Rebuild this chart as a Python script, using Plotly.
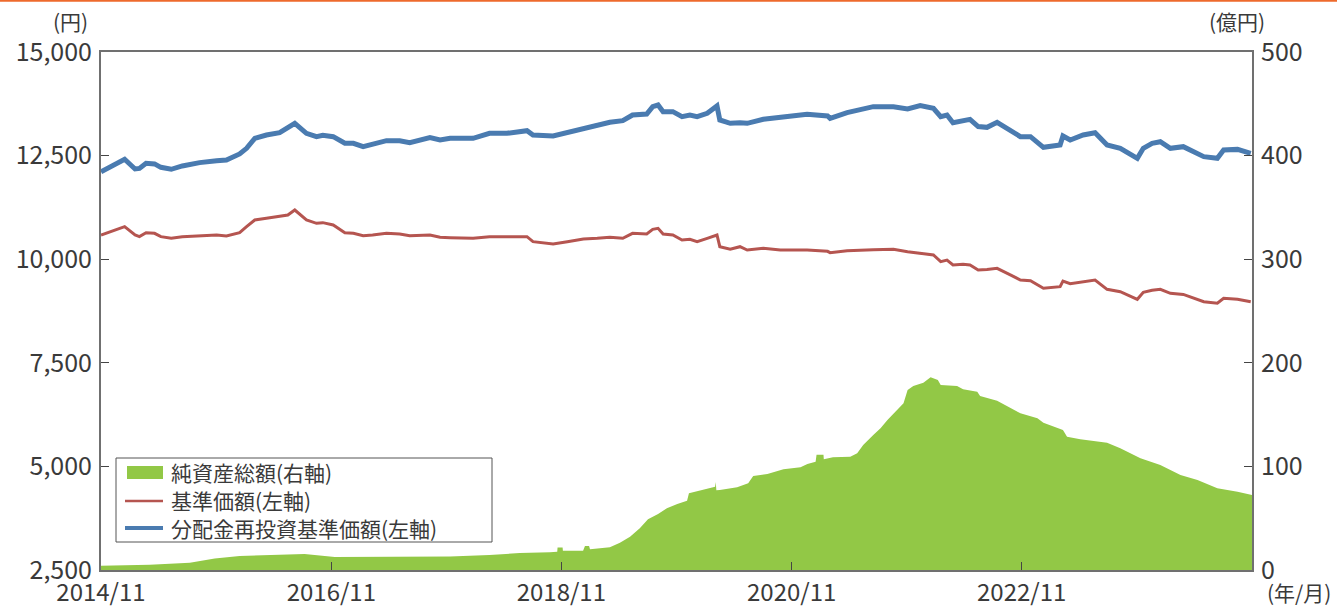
import plotly.graph_objects as go

# ---- data ----
line_dates = [
    "2014-11-01", "2015-01-15", "2015-02-17", "2015-03-03", "2015-03-24", "2015-04-20", "2015-05-10",
    "2015-06-12", "2015-07-17", "2015-09-10", "2015-11-03", "2015-12-04", "2016-01-15", "2016-02-06",
    "2016-03-03", "2016-04-09", "2016-05-21", "2016-06-16", "2016-07-08", "2016-08-14", "2016-09-15",
    "2016-10-05", "2016-11-07", "2016-12-14", "2017-01-10", "2017-02-10", "2017-03-12", "2017-04-25",
    "2017-06-06", "2017-07-08", "2017-09-10", "2017-10-12", "2017-11-13", "2018-01-25", "2018-03-18",
    "2018-05-12", "2018-07-15", "2018-08-03", "2018-10-06", "2018-11-20", "2019-01-10", "2019-02-23",
    "2019-04-04", "2019-05-15", "2019-06-15", "2019-07-30", "2019-08-18", "2019-09-04", "2019-09-20",
    "2019-10-21", "2019-11-19", "2019-12-14", "2020-01-06", "2020-02-07", "2020-02-26", "2020-03-09",
    "2020-03-18", "2020-04-20", "2020-05-21", "2020-06-13", "2020-08-03", "2020-09-26", "2020-12-20",
    "2021-02-23", "2021-03-03", "2021-04-26", "2021-07-18", "2021-09-20", "2021-11-04", "2021-12-14",
    "2022-01-25", "2022-02-17", "2022-03-09", "2022-03-28", "2022-04-29", "2022-05-21", "2022-06-16",
    "2022-07-14", "2022-08-15", "2022-09-26", "2022-10-28", "2022-11-29", "2023-01-09", "2023-03-03",
    "2023-03-12", "2023-04-04", "2023-05-15", "2023-06-22", "2023-07-30", "2023-09-10", "2023-11-03",
    "2023-11-22", "2023-12-20", "2024-01-15", "2024-02-16", "2024-03-28", "2024-06-01", "2024-07-14",
    "2024-08-03", "2024-09-16", "2024-10-28",
]

reinvest_nav = [  # 分配金再投資基準価額 (円)
    12111, 12411, 12177, 12190, 12314, 12300, 12217,
    12170, 12250, 12330, 12377, 12394, 12539, 12676,
    12917, 12997, 13053, 13158, 13279, 13038, 12957,
    12990, 12957, 12797, 12797, 12715, 12780, 12860,
    12860, 12812, 12933, 12876, 12917, 12917, 13038,
    13038, 13102, 12997, 12973, 13053, 13174, 13239,
    13304, 13343, 13480, 13504, 13681, 13721, 13560,
    13560, 13440, 13480, 13440, 13520, 13641, 13697,
    13359, 13279, 13295, 13279, 13375, 13416, 13496,
    13456, 13400, 13536, 13681, 13681, 13625, 13705,
    13641, 13440, 13480, 13294, 13343, 13375, 13200,
    13182, 13304, 13102, 12957, 12957, 12700, 12756,
    12973, 12876, 12997, 13053, 12756, 12676, 12435,
    12676, 12797, 12836, 12676, 12715, 12474, 12435,
    12635, 12650, 12555,
]

nav = [  # 基準価額 (円)
    10584, 10785, 10584, 10544, 10640, 10624, 10544,
    10504, 10544, 10568, 10584, 10560, 10640, 10785,
    10946, 10987, 11027, 11067, 11187, 10946, 10866,
    10882, 10825, 10640, 10624, 10568, 10584, 10624,
    10608, 10568, 10584, 10528, 10520, 10504, 10544,
    10544, 10544, 10423, 10367, 10423, 10487, 10504,
    10528, 10504, 10624, 10608, 10720, 10745, 10608,
    10584, 10463, 10479, 10423, 10504, 10560, 10584,
    10302, 10239, 10302, 10222, 10262, 10222, 10222,
    10190, 10157, 10206, 10230, 10239, 10182, 10142,
    10101, 9940, 9980, 9860, 9880, 9860, 9740,
    9750, 9780, 9620, 9498, 9480, 9297, 9337,
    9474, 9410, 9450, 9498, 9273, 9217, 9032,
    9200, 9249, 9273, 9177, 9150, 8975, 8936,
    9056, 9032, 8975,
]

aum_dates = [
    "2014-11-01", "2015-04-05", "2015-08-10", "2015-10-28", "2016-01-15", "2016-06-20", "2016-08-08",
    "2016-11-12", "2017-06-06", "2017-11-13", "2018-03-18", "2018-06-22", "2018-09-26", "2018-10-19",
    "2018-10-20", "2018-11-05", "2018-11-06", "2019-01-09", "2019-01-15", "2019-01-28", "2019-01-31",
    "2019-04-04", "2019-05-06", "2019-06-07", "2019-07-08", "2019-08-03", "2019-09-04", "2019-10-02",
    "2019-11-04", "2019-12-05", "2019-12-11", "2020-01-16", "2020-03-03", "2020-03-05", "2020-03-07",
    "2020-03-18", "2020-05-12", "2020-06-16", "2020-07-02", "2020-08-16", "2020-10-06", "2020-11-29",
    "2020-12-21", "2021-01-16", "2021-01-19", "2021-02-10", "2021-02-11", "2021-03-12", "2021-05-06",
    "2021-05-28", "2021-06-16", "2021-07-18", "2021-08-10", "2021-09-01", "2021-10-03", "2021-10-22",
    "2021-11-04", "2021-11-22", "2021-12-24", "2022-01-16", "2022-02-08", "2022-02-17", "2022-04-10",
    "2022-04-29", "2022-06-13", "2022-06-22", "2022-08-15", "2022-10-06", "2022-10-28", "2022-12-21",
    "2023-01-09", "2023-03-12", "2023-03-25", "2023-05-06", "2023-07-30", "2023-09-10", "2023-11-13",
    "2024-01-15", "2024-03-19", "2024-05-12", "2024-07-14", "2024-09-16", "2024-11-01",
]

aum = [  # 純資産総額 (億円)
    4, 5, 7, 11, 13.5, 15.4, 15.4,
    12.5, 12.5, 13, 14.5, 16.4, 17.1, 17.5,
    21.6, 21.6, 18.7, 18.7, 23.2, 23.2, 20,
    21.9, 26.4, 32.2, 40.2, 48.9, 54.1, 59.5,
    63.7, 66.9, 74, 76.6, 80.4, 85, 77,
    77.2, 79.8, 83.7, 90.7, 92.7, 97.2, 99.1,
    102.3, 104.5, 111.3, 111.3, 106.9, 108.8, 109.4,
    112.6, 120.7, 130.3, 136.8, 144.8, 154.8, 160.9,
    173.8, 177.6, 180.8, 186, 183.4, 178.6, 177.6,
    174.4, 172.1, 168, 163.4, 155.1, 151.3, 146.4,
    142.2, 135.1, 128.7, 126.2, 122.9, 117.5, 107.8,
    101.4, 91.7, 86.9, 78.9, 75.6, 72.4,
]

x_tick_vals = ["2014-11-01", "2016-11-01", "2018-11-01", "2020-11-01", "2022-11-01"]
x_tick_text = ["2014/11", "2016/11", "2018/11", "2020/11", "2022/11"]
left_ticks = [2500, 5000, 7500, 10000, 12500, 15000]
right_ticks = [0, 100, 200, 300, 400, 500]

names = ["純資産総額(右軸)", "基準価額(左軸)", "分配金再投資基準価額(左軸)"]

# ---- style ----
FONT = "Noto Sans CJK JP"
TXT = "#3a3a3a"
AXC = "#707070"
GREEN = "#92c846"
RED = "#b55550"
BLUE = "#4a7bb0"

fig = go.Figure()
fig.add_trace(go.Scatter(
    x=aum_dates, y=aum, name=names[0], yaxis="y2", mode="lines",
    line=dict(width=0, color=GREEN), fill="tozeroy", fillcolor=GREEN,
    showlegend=False,
))
fig.add_trace(go.Scatter(
    x=line_dates, y=nav, name=names[1], mode="lines",
    line=dict(width=3, color=RED), showlegend=False,
))
fig.add_trace(go.Scatter(
    x=line_dates, y=reinvest_nav, name=names[2], mode="lines",
    line=dict(width=5, color=BLUE), showlegend=False,
))

L, R, T, B = 101, 85, 52, 37
W, H = 1337, 607
pw, ph = W - L - R, H - T - B


def px_x(x):
    return (x - L) / pw


def px_y(y):
    return (H - B - y) / ph


ax_common = dict(
    ticks="inside", ticklen=8, tickcolor="#444444", tickwidth=1.2,
    showline=True, linecolor=AXC, linewidth=2,
    showgrid=False, zeroline=False, automargin=False,
)

# manual legend (box, swatches, labels)
legend_rows_y = [472, 500, 528]
shapes = [
    dict(type="line", xref="paper", yref="paper",
         x0=px_x(0), x1=px_x(W), y0=px_y(0.8), y1=px_y(0.8),
         line=dict(color="#ee6a2c", width=2)),
    dict(type="rect", xref="paper", yref="paper",
         x0=px_x(116), x1=px_x(492), y0=px_y(458), y1=px_y(542),
         fillcolor="white", line=dict(color="#555555", width=1)),
    dict(type="rect", xref="paper", yref="paper",
         x0=px_x(127), x1=px_x(163), y0=px_y(466), y1=px_y(479),
         fillcolor=GREEN, line=dict(width=0)),
    dict(type="line", xref="paper", yref="paper",
         x0=px_x(125), x1=px_x(163), y0=px_y(legend_rows_y[1] + 1), y1=px_y(legend_rows_y[1] + 1),
         line=dict(color=RED, width=2.5)),
    dict(type="line", xref="paper", yref="paper",
         x0=px_x(125), x1=px_x(163), y0=px_y(legend_rows_y[2]), y1=px_y(legend_rows_y[2]),
         line=dict(color=BLUE, width=4)),
]

annotations = [
    dict(text="(円)", xref="paper", yref="paper", x=px_x(70), y=px_y(21),
         xanchor="center", yanchor="middle", showarrow=False, borderpad=0,
         font=dict(family=FONT, size=21, color=TXT)),
    dict(text="(億円)", xref="paper", yref="paper", x=px_x(1237), y=px_y(21),
         xanchor="center", yanchor="middle", showarrow=False, borderpad=0,
         font=dict(family=FONT, size=21, color=TXT)),
    dict(text="(年/月)", xref="paper", yref="paper", x=px_x(1299), y=px_y(592),
         xanchor="center", yanchor="middle", showarrow=False, borderpad=0,
         font=dict(family=FONT, size=21, color=TXT)),
]
for nm, yy in zip(names, legend_rows_y):
    annotations.append(dict(
        text=nm, xref="paper", yref="paper", x=px_x(170), y=px_y(yy),
        xanchor="left", yanchor="middle", showarrow=False, borderpad=0,
        font=dict(family=FONT, size=21, color=TXT),
    ))

fig.update_layout(
    width=W, height=H,
    margin=dict(l=L, r=R, t=T, b=B, pad=0, autoexpand=False),
    paper_bgcolor="white", plot_bgcolor="white",
    font=dict(family=FONT, size=22, color=TXT),
    showlegend=False,
    xaxis=dict(
        type="date", range=["2014-11-01", "2024-11-01"],
        tickmode="array", tickvals=x_tick_vals, ticktext=x_tick_text,
        mirror=True, ticklabelstandoff=0,
        tickfont=dict(family=FONT, size=24, color=TXT),
        **ax_common,
    ),
    yaxis=dict(
        range=[2500, 15000], tickmode="array", tickvals=left_ticks,
        tickformat=",d", ticklabelstandoff=2,
        tickfont=dict(family=FONT, size=25, color=TXT),
        **ax_common,
    ),
    yaxis2=dict(
        range=[0, 500], overlaying="y", side="right", tickmode="array", tickvals=right_ticks,
        ticklabelstandoff=2,
        tickfont=dict(family=FONT, size=25, color=TXT),
        **ax_common,
    ),
    shapes=shapes,
    annotations=annotations,
)

# remove the browser's default 8px page margin so the figure sits at the window's origin
fig.write_html(
    "out.html",
    config={"displayModeBar": False},
    post_script="document.body.style.margin='0';document.body.style.overflow='hidden';",
)
